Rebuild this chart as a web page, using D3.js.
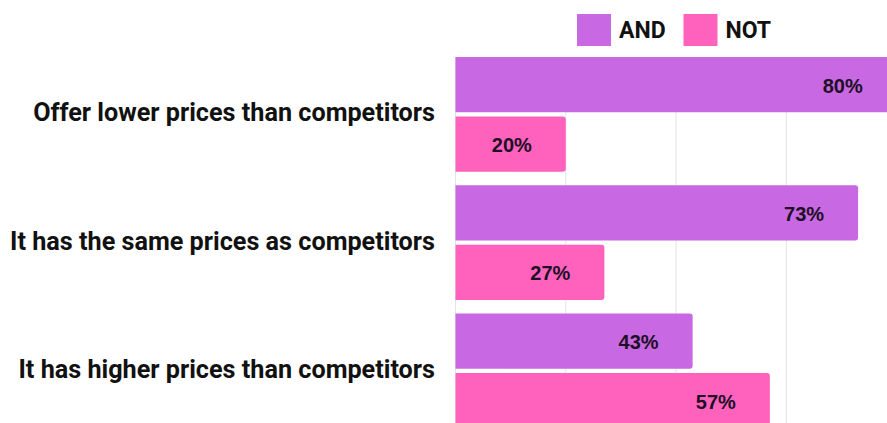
<!DOCTYPE html>
<html>
<head>
<meta charset="utf-8">
<script src="https://cdn.jsdelivr.net/npm/d3@7"></script>
<style>
  html, body { margin: 0; padding: 0; background: #fff; overflow: hidden; }
  svg { display: block; }
</style>
</head>
<body>
<svg id="chart" width="887" height="423"></svg>
<script>
// Price positioning vs. competitors, share of answers per group
const categories = [
  "Offer lower prices than competitors",
  "It has the same prices as competitors",
  "It has higher prices than competitors"
];
const seriesNames = ["AND", "NOT"];
const andValues = [80, 73, 43];
const notValues = [20, 27, 57];
const gridTicks = [0, 20, 40, 60, 80];
const colors = ["#C868E2", "#FF62BD"];

const rows = categories.map((c, i) => ({
  category: c,
  values: [
    { key: seriesNames[0], value: andValues[i] },
    { key: seriesNames[1], value: notValues[i] }
  ]
}));

const svg = d3.select("#chart");
const W = 887, H = 423;

// value axis: 0 sits at the left edge of the plot, the scale runs past the view
const x = d3.scaleLinear().domain([0, 100]).range([455.5, 1007]);
const y0 = d3.scaleBand().domain(categories).range([57, 428.3]).paddingInner(0.106).paddingOuter(0);
const y1 = d3.scaleBand().domain(seriesNames).range([0, y0.bandwidth()]).paddingInner(0.07);
const color = d3.scaleOrdinal().domain(seriesNames).range(colors);

// vertical gridlines
svg.append("g").selectAll("line").data(gridTicks).join("line")
  .attr("x1", d => x(d)).attr("x2", d => x(d))
  .attr("y1", y0.range()[0]).attr("y2", H)
  .attr("stroke", "#e4e4e4").attr("stroke-width", 1);

// bar with square left end and rounded right corners
function barPath(x0, x1, yt, h, r) {
  const rr = Math.min(r, (x1 - x0) / 2, h / 2);
  return `M${x0},${yt}H${x1 - rr}Q${x1},${yt} ${x1},${yt + rr}V${yt + h - rr}Q${x1},${yt + h} ${x1 - rr},${yt + h}H${x0}Z`;
}

const groups = svg.append("g").selectAll("g").data(rows).join("g")
  .attr("transform", d => `translate(0,${y0(d.category)})`);

groups.selectAll("path").data(d => d.values).join("path")
  .attr("d", d => barPath(x(0), x(d.value), y1(d.key), y1.bandwidth(), 3))
  .attr("fill", d => color(d.key));

groups.selectAll("text.val").data(d => d.values).join("text")
  .attr("class", "val")
  .attr("x", d => x(d.value) - 34)
  .attr("y", d => y1(d.key) + y1.bandwidth() / 2 + 1)
  .attr("dy", "0.35em")
  .attr("text-anchor", "end")
  .attr("font-family", "'Liberation Sans', Arial, sans-serif")
  .attr("font-weight", 700)
  .attr("font-size", 20)
  .attr("fill", "#1d1026")
  .text(d => d.value + "%");

// category labels, right-aligned next to the plot
const catLabels = svg.append("g").selectAll("text").data(categories).join("text")
  .attr("font-family", "Roboto, sans-serif")
  .attr("font-weight", 700)
  .attr("font-size", 26)
  .attr("fill", "#111")
  .attr("text-anchor", "end")
  .attr("dy", "0.35em")
  .text(d => d);

const natural = catLabels.nodes()[0].getComputedTextLength();
const sx = 402 / natural;
catLabels.attr("transform", d => `translate(435,${y0(d) + y0.bandwidth() / 2 - 2}) scale(${sx},1)`);

// legend
const legend = svg.append("g");
const legendItems = [
  { key: "AND", x: 577 },
  { key: "NOT", x: 683.5 }
];
legendItems.forEach(it => {
  legend.append("rect")
    .attr("x", it.x).attr("y", 14).attr("width", 34).attr("height", 32)
    .attr("fill", color(it.key));
  legend.append("text")
    .attr("x", it.x + 42).attr("y", 30).attr("dy", "0.35em")
    .attr("font-family", "Roboto, sans-serif")
    .attr("font-weight", 700)
    .attr("font-size", 23)
    .attr("fill", "#111")
    .text(it.key);
});
</script>
</body>
</html>
